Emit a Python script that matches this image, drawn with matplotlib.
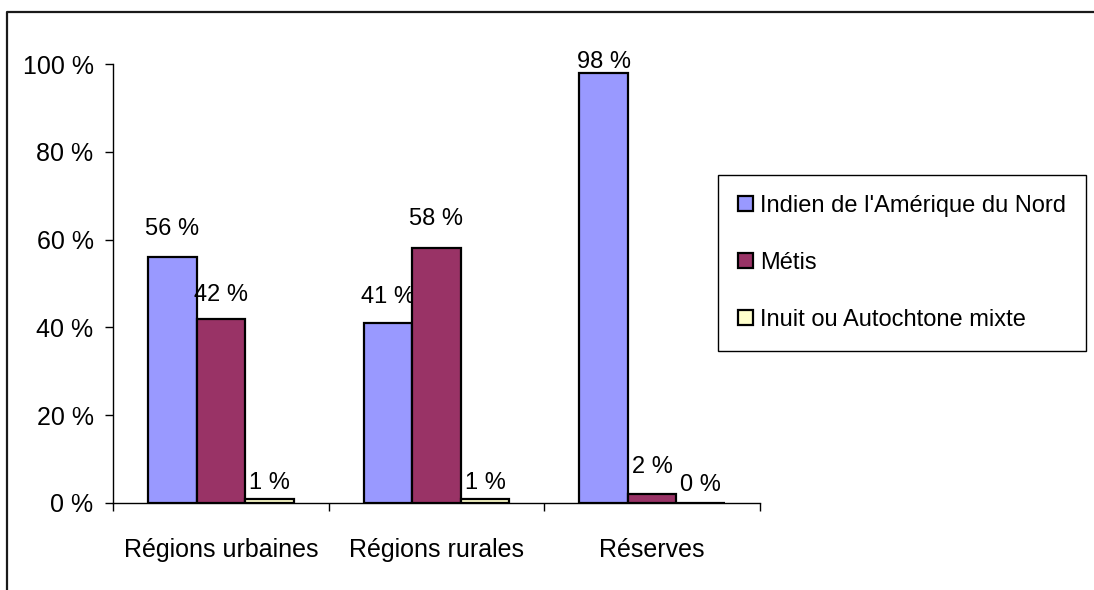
import matplotlib
matplotlib.use('Agg')
import matplotlib.pyplot as plt
import numpy as np

plt.rcParams['font.family'] = ['Liberation Sans', 'DejaVu Sans']

# Data
categories = ['Régions urbaines', 'Régions rurales', 'Réserves']
series = ["Indien de l'Amérique du Nord", 'Métis', 'Inuit ou Autochtone mixte']
values = {
    "Indien de l'Amérique du Nord": [56, 41, 98],
    'Métis': [42, 58, 2],
    'Inuit ou Autochtone mixte': [1, 1, 0],
}
colors = ['#9999FF', '#993366', '#FFFFCC']
yticks = [0, 20, 40, 60, 80, 100]

# label offsets above bar tops (pixels), mimics the spreadsheet placement
label_dy = [[28, 26, 11], [24, 29, 27], [16, 16, 18]]

fig = plt.figure(figsize=(10.94, 5.90), dpi=100)
ax = fig.add_axes([113 / 1094, 87 / 590, 647 / 1094, 439 / 590])

x = np.arange(len(categories))
w = 0.225
for j, name in enumerate(series):
    pos = x + (j - 1) * w
    vals = values[name]
    ax.bar(pos, vals, width=w, color=colors[j], edgecolor='black',
           linewidth=1.6, label=name, zorder=3)
    for k, (p, v) in enumerate(zip(pos, vals)):
        ax.annotate(f'{v} %', (p, v), xytext=(0, label_dy[j][k] * 0.72),
                    textcoords='offset points', ha='center', va='center',
                    fontsize=17)

ax.set_xlim(-0.5, 2.5)
ax.set_ylim(0, 100)
ax.set_yticks(yticks)
ax.set_yticklabels([f'{t} %' for t in yticks], fontsize=18)
ax.set_xticks([-0.5, 0.5, 1.5, 2.5])
ax.set_xticklabels([])
ax.set_xticks(x, minor=True)
ax.set_xticklabels(categories, minor=True, fontsize=18)
ax.tick_params(axis='x', which='minor', length=0, pad=25)
ax.tick_params(axis='x', which='major', length=6, width=1, direction='out')
ax.tick_params(axis='y', length=6, width=1, pad=8)
for s in ['top', 'right']:
    ax.spines[s].set_visible(False)
for s in ['left', 'bottom']:
    ax.spines[s].set_linewidth(1)

leg = fig.legend(loc='upper left', bbox_to_anchor=(718 / 1094, 1 - 175 / 590),
                 fontsize=17, frameon=True, fancybox=False, framealpha=1,
                 edgecolor='black', borderpad=0.85, labelspacing=1.48,
                 handlelength=0.62, handleheight=0.62, handletextpad=0.3,
                 borderaxespad=0)
leg.get_frame().set_linewidth(1)

# outer chart border (clipped at right and bottom like the source)
fig.add_artist(plt.Line2D([7 / 1094, 7 / 1094, 1.01], [-0.01, 1 - 12 / 590, 1 - 12 / 590],
                          transform=fig.transFigure, color='#1a1a1a', lw=1.6))

fig.savefig('out.png', dpi=100)
